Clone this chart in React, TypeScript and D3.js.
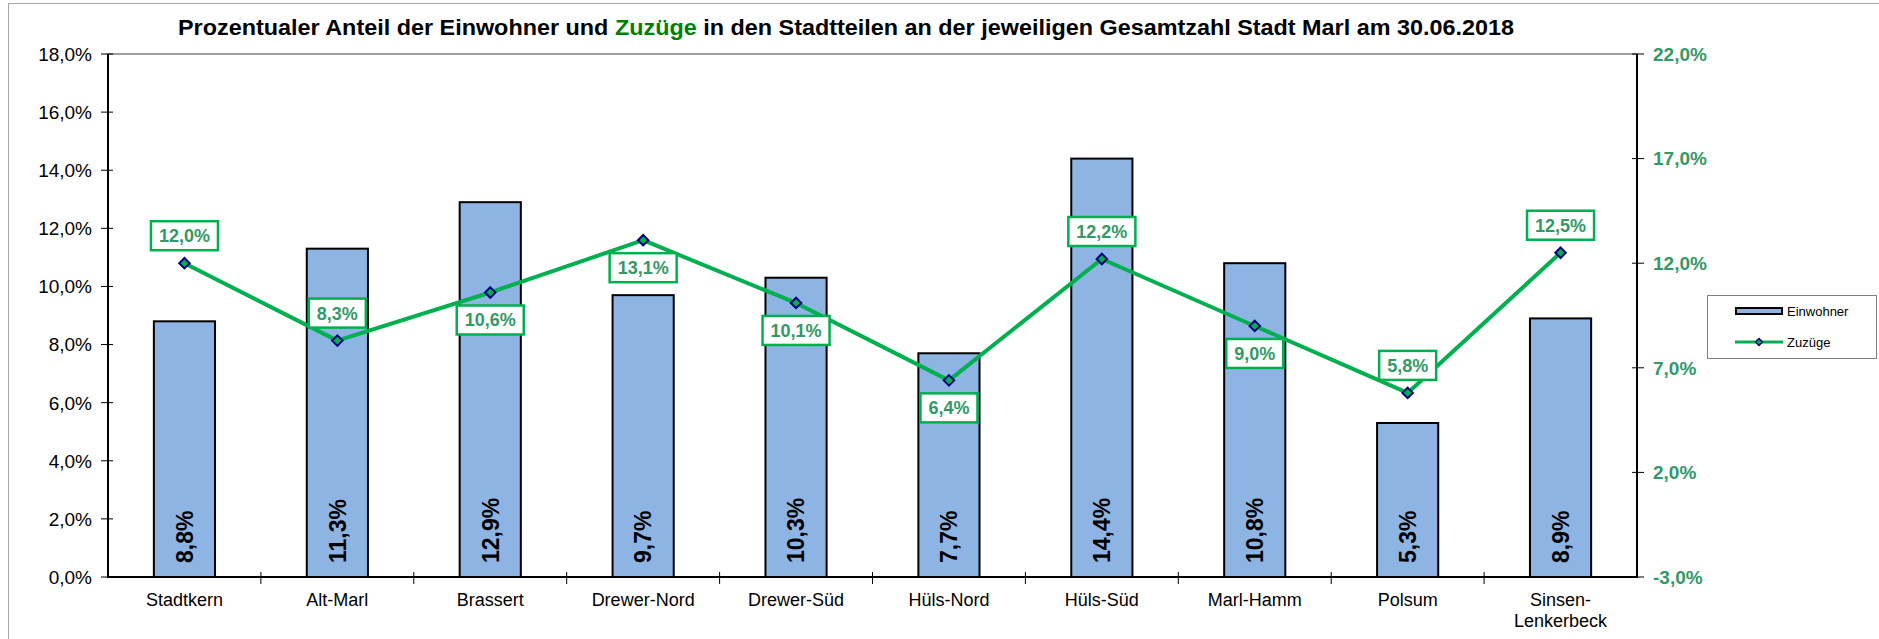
import React, { useRef, useEffect } from "react";
import * as d3 from "d3";

// Stadtteile and values (percent)
const districts = [
  "Stadtkern",
  "Alt-Marl",
  "Brassert",
  "Drewer-Nord",
  "Drewer-Süd",
  "Hüls-Nord",
  "Hüls-Süd",
  "Marl-Hamm",
  "Polsum",
  "Sinsen-\nLenkerbeck",
];
const einwohner = [8.8, 11.3, 12.9, 9.7, 10.3, 7.7, 14.4, 10.8, 5.3, 8.9];
const zuzuege = [12.0, 8.3, 10.6, 13.1, 10.1, 6.4, 12.2, 9.0, 5.8, 12.5];
const leftTicks = [0, 2, 4, 6, 8, 10, 12, 14, 16, 18];
const rightTicks = [-3, 2, 7, 12, 17, 22];

// where the data label box of the line sits (above / below the point)
const labelSide = [-1, -1, 1, 1, 1, 1, -1, 1, -1, -1];

const W = 1879,
  H = 639;
const margin = { top: 54, right: 242, bottom: 62, left: 108 };
const FONT = "'Liberation Sans', Arial, Helvetica, sans-serif";
const BAR_FILL = "#8eb4e3";
const LINE_GREEN = "#00b050";
const LABEL_GREEN = "#339966";

const fmt = (v: number) => v.toFixed(1).replace(".", ",") + "%";

const App = () => {
  const svgRef = useRef<SVGSVGElement>(null);

  useEffect(() => {
    const svg = d3.select(svgRef.current);
    svg.selectAll("*").remove();

    const x0 = margin.left,
      x1 = W - margin.right,
      y0 = margin.top,
      y1 = H - margin.bottom;

    const x = d3.scaleBand().domain(districts).range([x0, x1]).padding(0);
    const y = d3.scaleLinear().domain([0, 18]).range([y1, y0]);
    const y2 = d3.scaleLinear().domain([-3, 22]).range([y1, y0]);
    const cx = (d: string) => (x(d) as number) + x.bandwidth() / 2;

    // outer chart frame
    svg
      .append("rect")
      .attr("x", 8.5)
      .attr("y", 3.5)
      .attr("width", W)
      .attr("height", H + 20)
      .attr("fill", "white")
      .attr("stroke", "#a6a6a6");

    // title
    const title = svg
      .append("text")
      .attr("x", 846)
      .attr("y", 35)
      .attr("text-anchor", "middle")
      .attr("font-family", FONT)
      .attr("font-weight", "bold")
      .attr("font-size", 22)
      .attr("textLength", 1336)
      .attr("lengthAdjust", "spacingAndGlyphs");
    title.append("tspan").text("Prozentualer Anteil der Einwohner und ");
    title.append("tspan").attr("fill", "#008000").text("Zuzüge");
    title
      .append("tspan")
      .text(" in den Stadtteilen an der jeweiligen Gesamtzahl Stadt Marl am 30.06.2018");

    // plot area frame
    svg
      .append("rect")
      .attr("x", x0)
      .attr("y", y0)
      .attr("width", x1 - x0)
      .attr("height", y1 - y0)
      .attr("fill", "none")
      .attr("stroke", "#808080")
      .attr("stroke-width", 1.5);

    // bars
    const bw = x.bandwidth() * 0.4;
    svg
      .append("g")
      .selectAll("rect")
      .data(einwohner)
      .enter()
      .append("rect")
      .attr("x", (d, i) => cx(districts[i]) - bw / 2)
      .attr("y", (d) => y(d))
      .attr("width", bw)
      .attr("height", (d) => y1 - y(d))
      .attr("fill", BAR_FILL)
      .attr("stroke", "black")
      .attr("stroke-width", 2);

    // bar labels (rotated)
    svg
      .append("g")
      .selectAll("text")
      .data(einwohner)
      .enter()
      .append("text")
      .attr("transform", (d, i) => `translate(${cx(districts[i])},${y1 - 14}) rotate(-90)`)
      .attr("dy", "0.36em")
      .attr("font-family", FONT)
      .attr("font-weight", "bold")
      .attr("font-size", 23)
      .attr("fill", "black")
      .text((d) => fmt(d));

    // axes lines
    const axisG = svg.append("g").attr("stroke", "black").attr("stroke-width", 2);
    axisG.append("line").attr("x1", x0).attr("x2", x0).attr("y1", y0).attr("y2", y1 + 1);
    axisG.append("line").attr("x1", x1).attr("x2", x1).attr("y1", y0).attr("y2", y1 + 1);
    axisG.append("line").attr("x1", x0).attr("x2", x1).attr("y1", y1).attr("y2", y1);

    // left ticks
    const lt = svg.append("g");
    leftTicks.forEach((t) => {
      lt.append("line")
        .attr("x1", x0 - 7)
        .attr("x2", x0 + 5)
        .attr("y1", y(t))
        .attr("y2", y(t))
        .attr("stroke", "black");
      lt.append("text")
        .attr("x", 92)
        .attr("y", y(t))
        .attr("dy", "0.36em")
        .attr("text-anchor", "end")
        .attr("font-family", FONT)
        .attr("font-size", 19)
        .text(fmt(t));
    });

    // right ticks
    const rt = svg.append("g");
    rightTicks.forEach((t) => {
      rt.append("line")
        .attr("x1", x1 - 5)
        .attr("x2", x1 + 7)
        .attr("y1", y2(t))
        .attr("y2", y2(t))
        .attr("stroke", "black");
      rt.append("text")
        .attr("x", 1653)
        .attr("y", y2(t))
        .attr("dy", "0.36em")
        .attr("font-family", FONT)
        .attr("font-weight", "bold")
        .attr("font-size", 19)
        .attr("fill", LABEL_GREEN)
        .text(fmt(t));
    });

    // x ticks at category boundaries + labels
    const xt = svg.append("g");
    districts.forEach((d, i) => {
      const bx = x(d) as number;
      if (i > 0) {
        xt.append("line")
          .attr("x1", bx)
          .attr("x2", bx)
          .attr("y1", y1 - 5)
          .attr("y2", y1 + 7)
          .attr("stroke", "black");
      }
      const lbl = xt
        .append("text")
        .attr("x", cx(d))
        .attr("y", 606)
        .attr("text-anchor", "middle")
        .attr("font-family", FONT)
        .attr("font-size", 18);
      d.split("\n").forEach((part, k) => {
        lbl
          .append("tspan")
          .attr("x", cx(d))
          .attr("dy", k === 0 ? 0 : 21)
          .text(part);
      });
    });

    // line
    const line = d3
      .line<number>()
      .x((d, i) => cx(districts[i]))
      .y((d) => y2(d));
    svg
      .append("path")
      .datum(zuzuege)
      .attr("d", line)
      .attr("fill", "none")
      .attr("stroke", LINE_GREEN)
      .attr("stroke-width", 4)
      .attr("stroke-linejoin", "round");

    // markers
    const diamond = d3.symbol().type(d3.symbolDiamond2).size(70);
    svg
      .append("g")
      .selectAll("path")
      .data(zuzuege)
      .enter()
      .append("path")
      .attr("d", diamond)
      .attr("transform", (d, i) => `translate(${cx(districts[i])},${y2(d)})`)
      .attr("fill", LINE_GREEN)
      .attr("stroke", "#000080")
      .attr("stroke-width", 2);

    // data labels of the line
    const lbls = svg.append("g");
    zuzuege.forEach((v, i) => {
      const px = cx(districts[i]);
      const py = y2(v) + labelSide[i] * 27.5;
      const txt = fmt(v);
      // rough Arial bold widths
      const wEm = txt.split("").reduce((s, c) => s + (c === "," ? 0.278 : c === "%" ? 0.889 : 0.556), 0);
      const bwid = wEm * 18 + 16;
      lbls
        .append("rect")
        .attr("x", px - bwid / 2)
        .attr("y", py - 14.5)
        .attr("width", bwid)
        .attr("height", 29)
        .attr("fill", "white")
        .attr("stroke", LINE_GREEN)
        .attr("stroke-width", 2.5);
      lbls
        .append("text")
        .attr("x", px)
        .attr("y", py)
        .attr("dy", "0.36em")
        .attr("text-anchor", "middle")
        .attr("font-family", FONT)
        .attr("font-weight", "bold")
        .attr("font-size", 18)
        .attr("fill", LABEL_GREEN)
        .text(txt);
    });

    // legend
    const lg = svg.append("g");
    lg.append("rect")
      .attr("x", 1707.5)
      .attr("y", 295.5)
      .attr("width", 169)
      .attr("height", 63)
      .attr("fill", "white")
      .attr("stroke", "#808080");
    lg.append("rect")
      .attr("x", 1736)
      .attr("y", 308)
      .attr("width", 46)
      .attr("height", 6)
      .attr("fill", BAR_FILL)
      .attr("stroke", "black")
      .attr("stroke-width", 2);
    lg.append("text")
      .attr("x", 1787)
      .attr("y", 311)
      .attr("dy", "0.36em")
      .attr("font-family", FONT)
      .attr("font-size", 13)
      .text("Einwohner");
    lg.append("line")
      .attr("x1", 1735)
      .attr("x2", 1783)
      .attr("y1", 342)
      .attr("y2", 342)
      .attr("stroke", LINE_GREEN)
      .attr("stroke-width", 3);
    lg.append("path")
      .attr("d", d3.symbol().type(d3.symbolDiamond2).size(30)())
      .attr("transform", "translate(1759,342)")
      .attr("fill", LINE_GREEN)
      .attr("stroke", "#000080")
      .attr("stroke-width", 1.5);
    lg.append("text")
      .attr("x", 1787)
      .attr("y", 342)
      .attr("dy", "0.36em")
      .attr("font-family", FONT)
      .attr("font-size", 13)
      .text("Zuzüge");
  }, []);

  return (
    <svg
      ref={svgRef}
      width={W}
      height={H}
      style={{ position: "absolute", left: 0, top: 0, background: "white" }}
    />
  );
};

export default App;
